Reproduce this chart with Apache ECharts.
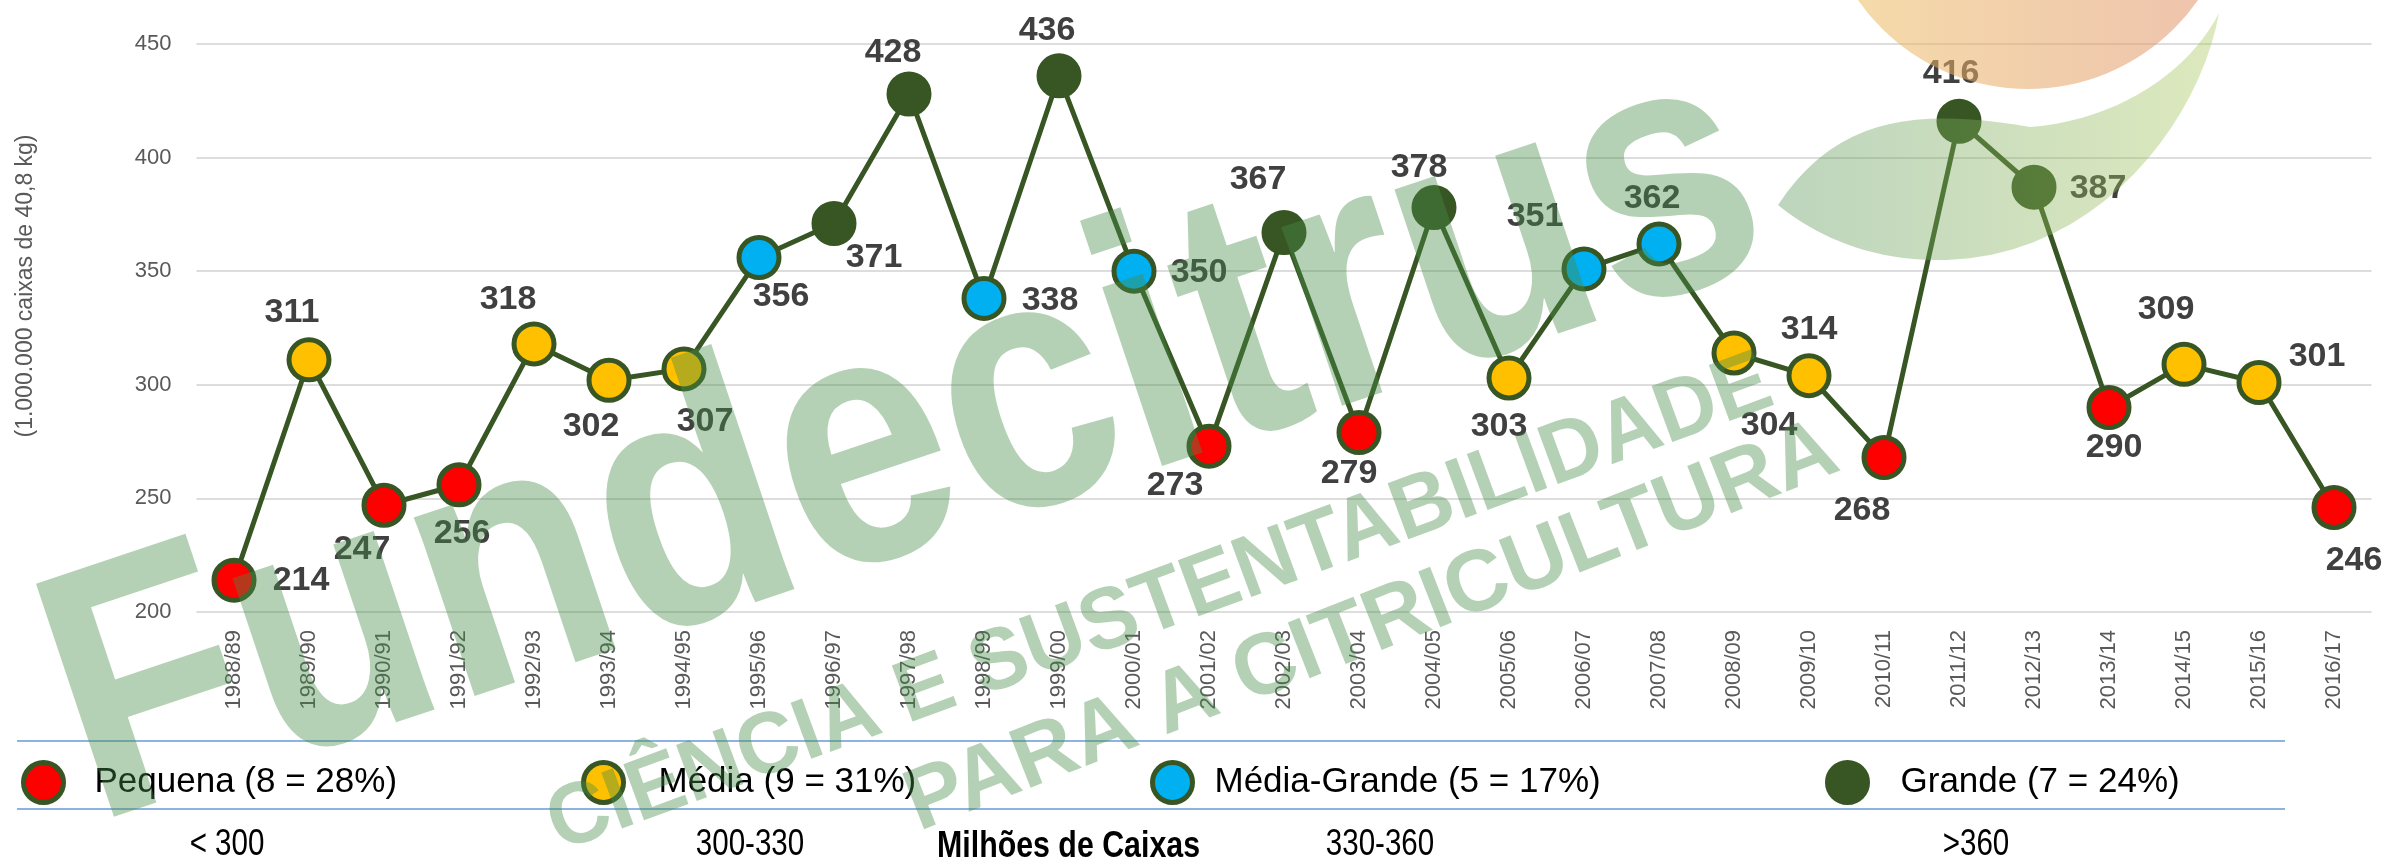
<!DOCTYPE html>
<html>
<head>
<meta charset="utf-8">
<title>Safras de laranja</title>
<script src="https://cdn.jsdelivr.net/npm/echarts@6/dist/echarts.min.js"></script>
<style>
html,body{margin:0;padding:0;background:#fff;}
#chart{width:2390px;height:865px;}
</style>
</head>
<body>
<div id="chart"></div>
<script type="text/javascript">
// safras (milhões de caixas de 40,8 kg)
var categories = ['1988/89','1989/90','1990/91','1991/92','1992/93','1993/94','1994/95','1995/96','1996/97','1997/98',
    '1998/99','1999/00','2000/01','2001/02','2002/03','2003/04','2004/05','2005/06','2006/07','2007/08',
    '2008/09','2009/10','2010/11','2011/12','2012/13','2013/14','2014/15','2015/16','2016/17'];
var production = [214,311,247,256,318,302,307,356,371,428,338,436,350,273,367,279,378,303,351,362,314,304,268,416,387,290,309,301,246];
// 0 Pequena, 1 Média, 2 Média-Grande, 3 Grande
var sizeClass = [0,1,0,0,1,1,1,2,3,3,2,3,2,0,3,0,3,1,2,2,1,1,0,3,3,0,1,1,0];
var classNames = ['Pequena (8 = 28%)','Média (9 = 31%)','Média-Grande (5 = 17%)','Grande (7 = 24%)'];
var classRanges = ['< 300','300-330','330-360','>360'];
var yMin = 200, yMax = 450, yStep = 50;

// estilo
var FONT = "'Liberation Sans',Arial,sans-serif";
var NARROW_X = 0.82; // o original usa fonte estreita
var DARK = '#375623';
var classColors = ['#FF0000','#FFC000','#00B0F0',DARK];
// deslocamento do rótulo em relação ao ponto
var labelOffsets = [[67,0],[-17,-47],[-22,44],[3,49],[-26,-44],[-18,46],[21,53],[22,39],[40,34],[-16,-41],
    [66,2],[-12,-45],[65,1],[-34,39],[-26,-53],[-10,41],[-15,-40],[-10,49],[-49,-52],[-7,-45],
    [75,-23],[-40,50],[-22,53],[-8,-48],[64,1],[5,40],[-18,-55],[58,-26],[20,53]];
var legendLeft = [21,581,1150,1825];
var legendTextPad = [26,30,17,28];
var rangeX = [227,750,1380,1976];

var seriesData = production.map(function(v,i){
    return {value:v, itemStyle:{color:classColors[sizeClass[i]]}, label:{offset:labelOffsets[i]}};
});

var series = [{
    type:'line',
    data:seriesData,
    symbol:'circle',
    symbolSize:40,
    lineStyle:{color:DARK,width:5},
    itemStyle:{borderColor:DARK,borderWidth:5},
    label:{show:true,position:'inside',fontFamily:FONT,fontWeight:'bold',fontSize:34,color:'#404040'},
    emphasis:{disabled:true},
    z:2
}];
classNames.forEach(function(n,k){
    series.push({type:'scatter',name:n,data:[],itemStyle:{color:classColors[k],borderColor:DARK,borderWidth:5}});
});

var legends = classNames.map(function(n,k){
    return {
        left:legendLeft[k], top:760, padding:0, itemGap:0,
        itemWidth:40, itemHeight:40, icon:'circle',
        data:[{name:n,itemStyle:{color:classColors[k],borderColor:DARK,borderWidth:5,opacity:1}}],
        textStyle:{fontFamily:FONT,fontSize:35,color:'#000',padding:[0,0,0,legendTextPad[k]]},
        selectedMode:false
    };
});

// contorno da folha do logotipo (curvas de bezier amostradas)
function bezierPts(curves){
    var pts = [];
    curves.forEach(function(c){
        for(var t=0;t<=1.0001;t+=0.05){
            var a=(1-t)*(1-t)*(1-t), b=3*(1-t)*(1-t)*t, d=3*(1-t)*t*t, e=t*t*t;
            pts.push([a*c[0][0]+b*c[1][0]+d*c[2][0]+e*c[3][0], a*c[0][1]+b*c[1][1]+d*c[2][1]+e*c[3][1]]);
        }
    });
    return pts;
}
var leaf = bezierPts([
    [[1778,205],[1840,110],[1930,110],[2030,127]],
    [[2030,127],[2120,120],[2190,70],[2219,13]],
    [[2219,13],[2200,120],[2100,255],[1947,260]],
    [[1947,260],[1870,262],[1815,235],[1778,205]]
]);

var WM = 'rgba(70,140,70,0.4)';
var deg = Math.PI/180;
var graphics = [
    {type:'line',shape:{x1:17,y1:741,x2:2285,y2:741},style:{stroke:'#8DB3E2',lineWidth:2}},
    {type:'line',shape:{x1:17,y1:809,x2:2285,y2:809},style:{stroke:'#8DB3E2',lineWidth:2}},
    {type:'text',x:26,y:286,rotation:Math.PI/2,style:{text:'(1.000.000 caixas de 40,8 kg)',fill:'#595959',
        font:'23px '+FONT,textAlign:'center',textVerticalAlign:'middle'}},
    {type:'text',x:937,y:847,scaleX:NARROW_X,style:{text:'Milhões de Caixas',fill:'#000',font:'bold 37px '+FONT,
        textAlign:'left',textVerticalAlign:'middle'}}
];
classRanges.forEach(function(t,k){
    graphics.push({type:'text',x:rangeX[k],y:845,scaleX:NARROW_X,style:{text:t,fill:'#000',font:'36px '+FONT,
        textAlign:'center',textVerticalAlign:'middle'}});
});
// marca d'água
graphics.push(
    {type:'circle',z:100,shape:{cx:2028,cy:-118,r:207},
        style:{fill:new echarts.graphic.LinearGradient(0,0,1,0,[{offset:0,color:'rgba(237,192,98,0.55)'},{offset:1,color:'rgba(224,144,106,0.55)'}])}},
    {type:'polygon',z:100,shape:{points:leaf},
        style:{fill:new echarts.graphic.LinearGradient(0,0,1,0,[{offset:0,color:'rgba(90,150,90,0.4)'},{offset:1,color:'rgba(170,200,90,0.4)'}])}},
    {type:'text',z:100,x:63,y:730,rotation:18.5*deg,scaleX:0.87,style:{text:'Fundecitrus',fill:WM,font:'bold 357px '+FONT,
        textAlign:'left',textVerticalAlign:'middle'}},
    {type:'text',z:100,x:1160,y:605,rotation:20.2*deg,scaleX:0.97,style:{text:'CIÊNCIA E SUSTENTABILIDADE',fill:WM,font:'bold 87px '+FONT,
        textAlign:'center',textVerticalAlign:'middle'}},
    {type:'text',z:100,x:1372,y:628,rotation:21.4*deg,style:{text:'PARA A CITRICULTURA',fill:WM,font:'bold 87px '+FONT,
        textAlign:'center',textVerticalAlign:'middle'}}
);

var option = {
    animation:false,
    backgroundColor:'#fff',
    grid:{left:196.5,right:18.5,top:44,bottom:253},
    xAxis:{
        type:'category',data:categories,boundaryGap:true,
        axisLine:{show:false},axisTick:{show:false},
        axisLabel:{interval:0,rotate:90,margin:18,fontFamily:FONT,fontSize:22,color:'#595959'}
    },
    yAxis:{
        type:'value',min:yMin,max:yMax,interval:yStep,
        axisLine:{show:false},axisTick:{show:false},
        axisLabel:{margin:25,fontFamily:FONT,fontSize:22,color:'#595959'},
        splitLine:{lineStyle:{color:'#DDDDDD',width:2}}
    },
    legend:legends,
    series:series,
    graphic:graphics
};

var myChart = echarts.init(document.getElementById('chart'));
myChart.setOption(option);
</script>
</body>
</html>
